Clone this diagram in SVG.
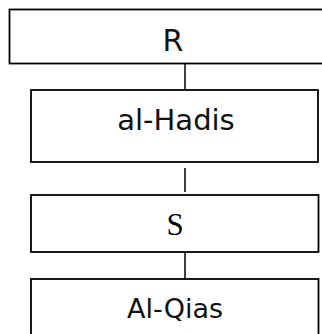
<svg xmlns="http://www.w3.org/2000/svg" width="322" height="334" viewBox="0 0 322 334">
<style>
.box{fill:#fff;stroke:#000;stroke-width:1.8}
.t{font-family:"DejaVu Sans",sans-serif;fill:#111;text-anchor:middle}
.s{font-family:"Liberation Serif",serif;fill:#000;text-anchor:middle}
.c{stroke:#000;stroke-width:1.5;fill:none}
</style>
<rect width="322" height="334" fill="#fff"/>
<g id="connectors">
<line class="c" x1="185" y1="64" x2="185" y2="90"/>
<line class="c" x1="185" y1="168" x2="185" y2="192"/>
<line class="c" x1="185" y1="252" x2="185" y2="279"/>
</g>
<g id="node-R">
<rect class="box" x="9.5" y="9.5" width="320" height="54"/>
<text class="t" x="173" y="51" font-size="30">R</text>
</g>
<g id="node-hadis">
<rect class="box" x="31" y="90" width="287" height="72"/>
<text class="t" x="176" y="130" font-size="29">al-Hadis</text>
</g>
<g id="node-S">
<rect class="box" x="31" y="195" width="287.5" height="57"/>
<text class="s" x="175" y="235" font-size="31">S</text>
</g>
<g id="node-qias">
<rect class="box" x="31" y="279" width="287.5" height="70"/>
<text class="t" x="175" y="318" font-size="27">Al-Qias</text>
</g>
</svg>
